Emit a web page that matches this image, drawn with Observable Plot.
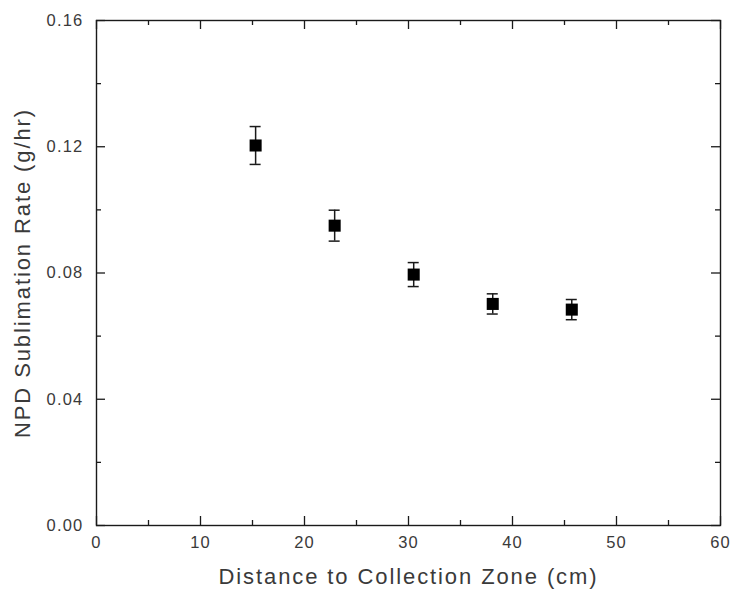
<!DOCTYPE html>
<html>
<head>
<meta charset="utf-8">
<script src="https://cdn.jsdelivr.net/npm/d3@7"></script>
<script src="https://cdn.jsdelivr.net/npm/@observablehq/plot@0.6"></script>
<style>
  html, body { margin: 0; padding: 0; background: #fff; }
  svg { display: block; }
</style>
</head>
<body>
<div id="chart"></div>
<script>
// Data
const distance = [15.3, 22.9, 30.5, 38.1, 45.7];       // cm
const rate = [0.1204, 0.0950, 0.0795, 0.0702, 0.0684];   // g/hr
const rateErr = [0.0060, 0.0049, 0.0038, 0.0032, 0.0032];

const xMajorTicks = [0, 10, 20, 30, 40, 50, 60];
const xMinorTicks = [5, 15, 25, 35, 45, 55];
const yMajorTicks = [0, 0.04, 0.08, 0.12, 0.16];
const yMinorTicks = [0.02, 0.06, 0.10, 0.14];

const xTitle = "Distance to Collection Zone (cm)";
const yTitle = "NPD Sublimation Rate (g/hr)";

const points = distance.map((x, i) => ({x, y: rate[i], e: rateErr[i]}));

const W = 735, H = 598;
const mL = 96, mR = 15, mT = 20, mB = 73;
const plotW = W - mL - mR, plotH = H - mT - mB;
const major = 9, minor = 5;
const ink = "#1a1a1a";
const textInk = "#3a3a3a";

const chart = Plot.plot({
  width: W,
  height: H,
  marginLeft: mL,
  marginRight: mR,
  marginTop: mT,
  marginBottom: mB,
  style: {fontFamily: "'Liberation Sans', Arial, sans-serif", background: "#fff"},
  x: {domain: [0, 60]},
  y: {domain: [0, 0.16]},
  marks: [
    // inward tick marks, bottom & top
    Plot.tickX(xMajorTicks, {x: d => d, insetTop: plotH - major, stroke: ink, strokeWidth: 1.3}),
    Plot.tickX(xMinorTicks, {x: d => d, insetTop: plotH - minor, stroke: ink, strokeWidth: 1.3}),
    Plot.tickX(xMajorTicks, {x: d => d, insetBottom: plotH - major, stroke: ink, strokeWidth: 1.3}),
    Plot.tickX(xMinorTicks, {x: d => d, insetBottom: plotH - minor, stroke: ink, strokeWidth: 1.3}),
    // inward tick marks, left & right
    Plot.tickY(yMajorTicks, {y: d => d, insetRight: plotW - major, stroke: ink, strokeWidth: 1.3}),
    Plot.tickY(yMinorTicks, {y: d => d, insetRight: plotW - minor, stroke: ink, strokeWidth: 1.3}),
    Plot.tickY(yMajorTicks, {y: d => d, insetLeft: plotW - major, stroke: ink, strokeWidth: 1.3}),
    Plot.tickY(yMinorTicks, {y: d => d, insetLeft: plotW - minor, stroke: ink, strokeWidth: 1.3}),
    Plot.frame({stroke: ink, strokeWidth: 1.4}),
    // axis labels
    Plot.axisX(xMajorTicks, {tickSize: 0, tickPadding: 11, fontSize: 16.5, fill: textInk, tickFormat: d => String(d), label: null}),
    Plot.axisY(yMajorTicks, {tickSize: 0, tickPadding: 13, fontSize: 16.5, fill: textInk, tickFormat: d3.format(".2f"), label: null}),
    // error bars
    Plot.ruleX(points, {x: "x", y1: d => d.y - d.e, y2: d => d.y + d.e, stroke: ink, strokeWidth: 1.5}),
    Plot.ruleY(points, {y: d => d.y + d.e, x1: "x", x2: "x", insetLeft: -5.5, insetRight: -5.5, stroke: ink, strokeWidth: 1.5}),
    Plot.ruleY(points, {y: d => d.y - d.e, x1: "x", x2: "x", insetLeft: -5.5, insetRight: -5.5, stroke: ink, strokeWidth: 1.5}),
    // markers
    Plot.dot(points, {x: "x", y: "y", symbol: "square", r: 6.8, fill: "#000", stroke: "none"}),
    // axis titles
    Plot.text([xTitle], {frameAnchor: "bottom", dy: 58, text: d => d, fontSize: 22, fill: textInk, textAnchor: "middle"}),
    Plot.text([yTitle], {frameAnchor: "left", dx: -74, rotate: -90, text: d => d, fontSize: 22, fill: textInk, textAnchor: "middle"})
  ]
});

document.getElementById("chart").appendChild(chart);

// letter spacing similar to the reference's wide text rendering
d3.select(chart).selectAll('g[aria-label="x-axis tick label"] text, g[aria-label="y-axis tick label"] text')
  .attr("letter-spacing", "1.2px");
d3.select(chart).selectAll('g[aria-label="text"] text').attr("letter-spacing", "1.9px");
</script>
</body>
</html>
